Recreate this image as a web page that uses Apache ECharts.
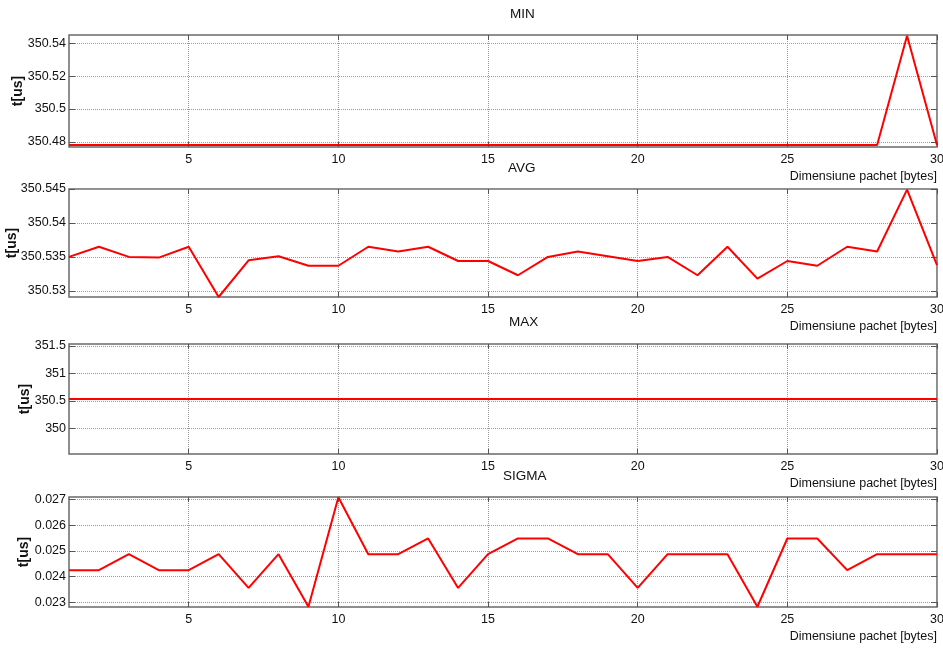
<!DOCTYPE html>
<html>
<head>
<meta charset="utf-8">
<script src="https://cdn.jsdelivr.net/npm/echarts@6/dist/echarts.min.js"></script>
<style>
html,body{margin:0;padding:0;background:#fff;}
#c{width:943px;height:651px;}
</style>
</head>
<body>
<div id="c"></div>
<script>
// ---- data ----
const sizes = [1,2,3,4,5,6,7,8,9,10,11,12,13,14,15,16,17,18,19,20,21,22,23,24,25,26,27,28,29,30];
const minVals = [350.478,350.478,350.478,350.478,350.478,350.478,350.478,350.478,350.478,350.478,
                 350.478,350.478,350.478,350.478,350.478,350.478,350.478,350.478,350.478,350.478,
                 350.478,350.478,350.478,350.478,350.478,350.478,350.478,350.478,350.5448,350.478];
const avgVals = [350.5350,350.5365,350.5350,350.5349,350.5365,350.5291,350.5345,350.5351,350.5337,350.5337,
                 350.5365,350.5358,350.5365,350.5344,350.5344,350.5323,350.5350,350.5358,350.5351,350.5344,
                 350.5350,350.5323,350.5365,350.5318,350.5344,350.5337,350.5365,350.5358,350.5449,350.5338];
const maxVals = [350.5366,350.5366,350.5366,350.5366,350.5366,350.5366,350.5366,350.5366,350.5366,350.5366,
                 350.5366,350.5366,350.5366,350.5366,350.5366,350.5366,350.5366,350.5366,350.5366,350.5366,
                 350.5366,350.5366,350.5366,350.5366,350.5366,350.5366,350.5366,350.5366,350.5366,350.5366];
const sigmaVals = [0.02425,0.02425,0.02487,0.02425,0.02425,0.02487,0.02356,0.02487,0.02283,0.02708,
                   0.02487,0.02487,0.02548,0.02356,0.02487,0.02548,0.02548,0.02487,0.02487,0.02356,
                   0.02487,0.02487,0.02487,0.02283,0.02548,0.02548,0.02425,0.02487,0.02487,0.02487];
const xTicks = [5,10,15,20,25,30];
const minTicks = [350.48,350.5,350.52,350.54];
const avgTicks = [350.53,350.535,350.54,350.545];
const maxTicks = [350,350.5,351,351.5];
const sigmaTicks = [0.023,0.024,0.025,0.026,0.027];
const titles = ['MIN','AVG','MAX','SIGMA'];
const xName = 'Dimensiune pachet [bytes]';
const yName = 't[us]';

const FONT = "'Liberation Sans Narrow','Liberation Sans',Arial,sans-serif";
const FS = 12.5;
const panels = [
  {vals:minVals, ticks:minTicks, ymin:350.4768, ymax:350.5452, top:35, h:112, tTop:7, tLeft:510, yGap:44},
  {vals:avgVals, ticks:avgTicks, ymin:350.5291, ymax:350.5450, top:189, h:108, tTop:161, tLeft:508, yGap:50},
  {vals:maxVals, ticks:maxTicks, ymin:349.5366, ymax:351.5366, top:344, h:110, tTop:315, tLeft:509, yGap:37},
  {vals:sigmaVals, ticks:sigmaTicks, ymin:0.02282, ymax:0.02709, top:497, h:110, tTop:469, tLeft:503, yGap:38}
];

const grid=[], xAxis=[], yAxis=[], series=[], title=[];
panels.forEach((p,i)=>{
  grid.push({left:69, right:6, top:p.top, height:p.h, containLabel:false, outerBoundsMode:'none',
    show:true, borderColor:'#6a6a6a', borderWidth:1.5, backgroundColor:'#fff'});
  title.push({text:titles[i], left:p.tLeft, top:p.tTop, padding:0,
    textStyle:{fontFamily:FONT, fontSize:13.5, fontWeight:'normal', color:'#111'}});
  const gridLine = {show:true, lineStyle:{type:'dotted', color:'#9a9a9a', width:1}};
  xAxis.push({type:'value', gridIndex:i, min:1, max:30, position:'bottom',
    axisLine:{show:false},
    axisTick:{show:true, inside:true, length:5, customValues:xTicks, lineStyle:{color:'#555'}},
    axisLabel:{show:true, customValues:xTicks, margin:6, fontFamily:FONT, fontSize:FS, color:'#111'},
    splitLine:gridLine,
    name:xName, nameLocation:'end', nameGap:0, nameMoveOverlap:false,
    nameTextStyle:{fontFamily:FONT, fontSize:FS, color:'#111', align:'right', verticalAlign:'top', padding:[23,0,0,0]}
  });
  xAxis.push({type:'value', gridIndex:i, min:1, max:30, position:'top',
    axisLine:{show:false},
    axisTick:{show:true, inside:true, length:5, customValues:xTicks, lineStyle:{color:'#555'}},
    axisLabel:{show:false}, splitLine:{show:false}
  });
  yAxis.push({type:'value', gridIndex:i, min:p.ymin, max:p.ymax, position:'left',
    axisLine:{show:false},
    axisTick:{show:true, inside:true, length:6, customValues:p.ticks, lineStyle:{color:'#555'}},
    axisLabel:{show:true, customValues:p.ticks, margin:3, fontFamily:FONT, fontSize:FS, color:'#111'},
    splitLine:gridLine,
    name:yName, nameLocation:'middle', nameGap:p.yGap, nameMoveOverlap:false,
    nameTextStyle:{fontFamily:FONT, fontSize:14, fontWeight:'bold', color:'#111'}
  });
  yAxis.push({type:'value', gridIndex:i, min:p.ymin, max:p.ymax, position:'right',
    axisLine:{show:false},
    axisTick:{show:true, inside:true, length:6, customValues:p.ticks, lineStyle:{color:'#555'}},
    axisLabel:{show:false}, splitLine:{show:false}
  });
  series.push({type:'line', xAxisIndex:2*i, yAxisIndex:2*i,
    data:sizes.map((s,k)=>[s,p.vals[k]]),
    showSymbol:false, symbol:'none', clip:false,
    lineStyle:{color:'#ff0000', width:2}, itemStyle:{color:'#ff0000'}, animation:false});
});

const chart = echarts.init(document.getElementById('c'), null, {renderer:'canvas'});
chart.setOption({backgroundColor:'#fff', animation:false, title, grid, xAxis, yAxis, series});
</script>
</body>
</html>
